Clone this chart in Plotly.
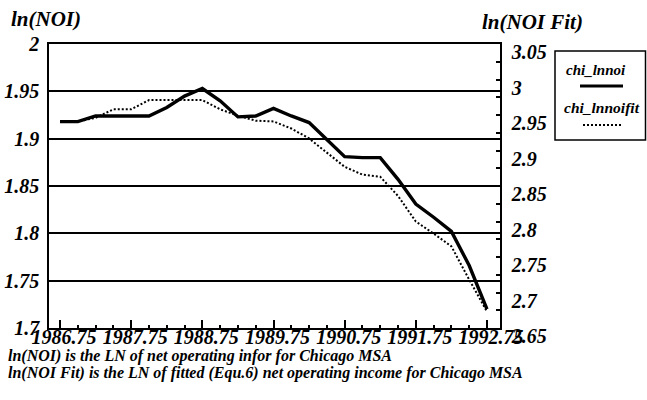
import plotly.graph_objects as go

# ---- data ----
quarters = [1986.75, 1987.0, 1987.25, 1987.5, 1987.75, 1988.0, 1988.25, 1988.5,
            1988.75, 1989.0, 1989.25, 1989.5, 1989.75, 1990.0, 1990.25, 1990.5,
            1990.75, 1991.0, 1991.25, 1991.5, 1991.75, 1992.0, 1992.25, 1992.5,
            1992.75]
chi_lnnoi = [1.918, 1.918, 1.924, 1.924, 1.924, 1.924, 1.933, 1.945,
             1.953, 1.940, 1.923, 1.924, 1.932, 1.924, 1.917, 1.899,
             1.881, 1.880, 1.880, 1.857, 1.831, 1.817, 1.802, 1.766,
             1.720]
chi_lnnoifit = [2.941, 2.941, 2.946, 2.958, 2.958, 2.971, 2.971, 2.971,
                2.971, 2.958, 2.949, 2.942, 2.941, 2.931, 2.917, 2.897,
                2.877, 2.866, 2.863, 2.836, 2.800, 2.783, 2.765, 2.718,
                2.673]
x_tickvals = [1986.75, 1987.75, 1988.75, 1989.75, 1990.75, 1991.75, 1992.75]
x_ticktext = ["1986.75", "1987.75", "1988.75", "1989.75", "1990.75", "1991.75", "1992.75"]
left_ticks = [1.7, 1.75, 1.8, 1.85, 1.9, 1.95, 2.0]
left_ticktext = ["1.7", "1.75", "1.8", "1.85", "1.9", "1.95", "2"]
right_ticks = [2.65, 2.7, 2.75, 2.8, 2.85, 2.9, 2.95, 3.0, 3.05]
right_ticktext = ["2.65", "2.7", "2.75", "2.8", "2.85", "2.9", "2.95", "3", "3.05"]

# ---- layout geometry (pixels) ----
W, H = 647, 400
L, R, T, B = 49, 500, 44, 328

def px(x):
    return (x - L) / (R - L)

def py(y):
    return (B - y) / (B - T)

SERIF = "Liberation Serif, Times New Roman, Times, serif"

def bf(size):
    return dict(family=SERIF, size=size, color="black", weight="bold", style="italic")

fig = go.Figure()
fig.add_trace(go.Scatter(x=quarters, y=chi_lnnoi, mode="lines", name="chi_lnnoi",
                         line=dict(color="black", width=3.4), yaxis="y"))
fig.add_trace(go.Scatter(x=quarters, y=chi_lnnoifit, mode="lines", name="chi_lnnoifit",
                         line=dict(color="black", width=2, dash="2px,2px"), yaxis="y2"))

fig.update_layout(
    width=W, height=H,
    margin=dict(l=L, r=W - R, t=T, b=H - B, pad=0),
    paper_bgcolor="white", plot_bgcolor="white",
    showlegend=False,
    font=bf(14),
    xaxis=dict(range=[1986.595, 1992.933], tickmode="array",
               tickvals=x_tickvals, ticktext=x_ticktext, automargin=False,
               ticks="inside", ticklen=8, tickwidth=1.5, tickcolor="black",
               minor=dict(tick0=1986.75, dtick=0.25, ticks="inside", ticklen=3,
                          tickwidth=1.5, tickcolor="black", showgrid=False),
               showline=True, linecolor="black", linewidth=1.5, mirror=True,
               showgrid=False, zeroline=False, tickfont=bf(20),
               ticklabelstandoff=-10, ticklabelshift=4),
    yaxis=dict(range=[1.7, 2.0], tickmode="array", tickvals=left_ticks,
               ticktext=left_ticktext, ticks="", showline=True, automargin=False,
               linecolor="black", linewidth=1.5, showgrid=True,
               gridcolor="black", gridwidth=1.5, zeroline=False,
               tickfont=bf(20), ticklabelstandoff=4),
    yaxis2=dict(range=[2.65, 3.05], overlaying="y", side="right",
                tickmode="array", tickvals=right_ticks, ticktext=right_ticktext,
                ticks="inside", ticklen=4, tickwidth=1.5, tickcolor="black",
                minor=dict(tick0=2.65, dtick=0.025, ticks="inside", ticklen=4,
                           tickwidth=1.5, tickcolor="black", showgrid=False),
                showline=True, linecolor="black", linewidth=1.5, automargin=False,
                showgrid=False, zeroline=False, tickfont=bf(20),
                ticklabelstandoff=6, ticklabelshift=8),
)

annotations = [
    dict(text="ln(NOI)", x=px(46), y=py(19), font=bf(21)),
    dict(text="ln(NOI Fit)", x=px(532), y=py(22), font=bf(21)),
    dict(text="chi_lnnoi", x=px(596), y=py(70), font=bf(15)),
    dict(text="chi_lnnoifit", x=px(602), y=py(107), font=bf(15.5)),
]
for a in annotations:
    a.update(xref="paper", yref="paper", showarrow=False, xanchor="center", yanchor="middle")

foot = [
    ("ln(NOI) is the LN of net operating infor for Chicago MSA", 356),
    ("ln(NOI Fit) is the LN of fitted (Equ.6) net operating income for Chicago MSA", 373),
]
for txt, yy in foot:
    annotations.append(dict(text=txt, x=px(6), y=py(yy), xref="paper", yref="paper",
                            showarrow=False, xanchor="left", yanchor="middle", font=bf(16)))
fig.update_layout(annotations=annotations)

shapes = [
    dict(type="rect", xref="paper", yref="paper", x0=px(555), x1=px(645.5),
         y0=py(140), y1=py(51), line=dict(color="black", width=1.5)),
    dict(type="line", xref="paper", yref="paper", x0=px(580), x1=px(623),
         y0=py(86), y1=py(86), line=dict(color="black", width=3)),
    dict(type="line", xref="paper", yref="paper", x0=px(583), x1=px(622),
         y0=py(125), y1=py(125), line=dict(color="black", width=2, dash="2px,2px")),
]
fig.update_layout(shapes=shapes)

fig.write_html("out.html", config={"displayModeBar": False},
               post_script="document.body.style.margin='0px';document.body.style.overflow='hidden';")
